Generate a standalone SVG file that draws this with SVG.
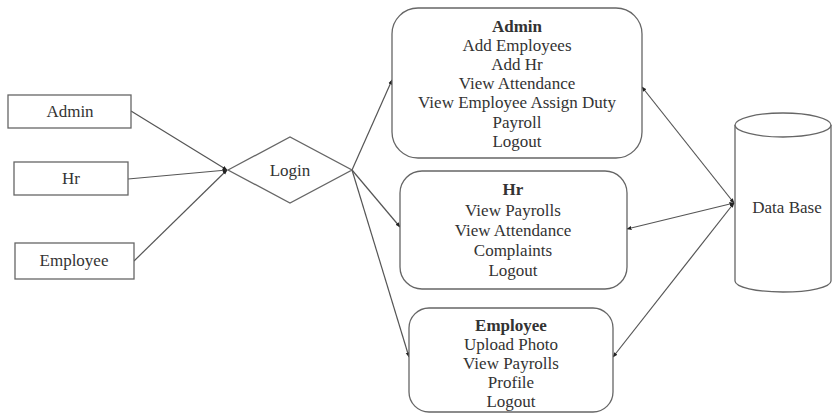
<svg xmlns="http://www.w3.org/2000/svg" width="832" height="414" viewBox="0 0 832 414">
<style>
  .box { fill: #fff; stroke: #666; stroke-width: 1.3; }
  .t { font-family: "Liberation Serif", "Times New Roman", serif; font-size: 17px; fill: #333; text-anchor: middle; }
  .b { font-weight: bold; }
  .c { stroke: #555; stroke-width: 1.2; fill: none; }
</style>
<defs>
  <marker id="ah" viewBox="0 0 10 10" refX="9" refY="5" markerWidth="5" markerHeight="5" orient="auto-start-reverse" markerUnits="userSpaceOnUse">
    <path d="M0,1 L10,5 L0,9 Z" fill="#222"/>
  </marker>
</defs>
<rect width="832" height="414" fill="#fff"/>

<g id="connectors">
  <line class="c" x1="131" y1="111" x2="227" y2="170" marker-end="url(#ah)"/>
  <line class="c" x1="128" y1="179" x2="227" y2="170" marker-end="url(#ah)"/>
  <line class="c" x1="134" y1="261" x2="227" y2="170" marker-end="url(#ah)"/>
  <line class="c" x1="352" y1="170" x2="392" y2="80" marker-end="url(#ah)"/>
  <line class="c" x1="352" y1="170" x2="400" y2="227" marker-end="url(#ah)"/>
  <line class="c" x1="352" y1="170" x2="409" y2="357" marker-end="url(#ah)"/>
  <line class="c" x1="734" y1="203" x2="642" y2="87" marker-start="url(#ah)" marker-end="url(#ah)"/>
  <line class="c" x1="734" y1="203" x2="627" y2="229" marker-start="url(#ah)" marker-end="url(#ah)"/>
  <line class="c" x1="734" y1="203" x2="613" y2="357" marker-start="url(#ah)" marker-end="url(#ah)"/>
</g>

<g id="actor-admin">
  <rect class="box" x="8" y="95" width="123" height="33"/>
  <text class="t" x="70" y="117">Admin</text>
</g>
<g id="actor-hr">
  <rect class="box" x="14" y="162" width="114" height="33"/>
  <text class="t" x="71" y="184">Hr</text>
</g>
<g id="actor-employee">
  <rect class="box" x="15" y="243" width="119" height="36"/>
  <text class="t" x="74" y="266">Employee</text>
</g>

<g id="login">
  <polygon class="box" points="228,170 290,137 352,170 290,203"/>
  <text class="t" x="290" y="176">Login</text>
</g>

<g id="admin-panel">
  <rect class="box" x="392" y="8" width="250" height="150" rx="26" ry="26"/>
  <text class="t b" x="517" y="32">Admin</text>
  <text class="t" x="517" y="51">Add Employees</text>
  <text class="t" x="517" y="70">Add Hr</text>
  <text class="t" x="517" y="89">View Attendance</text>
  <text class="t" x="517" y="108">View Employee Assign Duty</text>
  <text class="t" x="517" y="128">Payroll</text>
  <text class="t" x="517" y="147">Logout</text>
</g>

<g id="hr-panel">
  <rect class="box" x="400" y="171" width="227" height="118" rx="22" ry="22"/>
  <text class="t b" x="513" y="195">Hr</text>
  <text class="t" x="513" y="216">View Payrolls</text>
  <text class="t" x="513" y="236">View Attendance</text>
  <text class="t" x="513" y="256">Complaints</text>
  <text class="t" x="513" y="276">Logout</text>
</g>

<g id="employee-panel">
  <rect class="box" x="409" y="308" width="204" height="104" rx="20" ry="20"/>
  <text class="t b" x="511" y="331">Employee</text>
  <text class="t" x="511" y="350">Upload Photo</text>
  <text class="t" x="511" y="369">View Payrolls</text>
  <text class="t" x="511" y="388">Profile</text>
  <text class="t" x="511" y="407">Logout</text>
</g>

<g id="database">
  <path class="box" d="M735,125 L735,281 A48,11 0 0 0 831,281 L831,125"/>
  <ellipse class="box" cx="783" cy="125" rx="48" ry="12"/>
  <text class="t" x="787" y="213">Data Base</text>
</g>
</svg>
